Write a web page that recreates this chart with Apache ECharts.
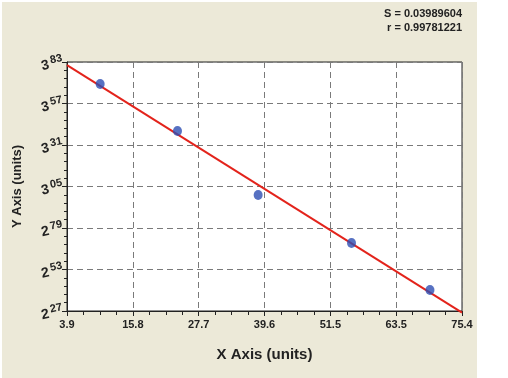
<!DOCTYPE html>
<html>
<head>
<meta charset="utf-8">
<script src="https://cdn.jsdelivr.net/npm/echarts@6/dist/echarts.min.js"></script>
<style>
  html, body { margin: 0; padding: 0; background: #fff; }
  #chart { width: 508px; height: 378px; }
</style>
</head>
<body>
<div id="chart"></div>
<script>
// standard points
var pointX = [9.9, 23.9, 38.5, 55.4, 69.6];
var pointY = [3.692, 3.398, 2.997, 2.696, 2.402];
// fitted line ends
var lineX = [3.9, 75.4];
var lineY = [3.81, 2.26];
// tick labels
var xTicks = ["3.9", "15.8", "27.7", "39.6", "51.5", "63.5", "75.4"];
var yTicks = ["2.27", "2.53", "2.79", "3.05", "3.31", "3.57", "3.83"];
var statS = "S = 0.03989604";
var statR = "r = 0.99781221";

var xMin = 3.9, xMax = 75.4, xStep = (xMax - xMin) / 6;
var yMin = 2.27, yMax = 3.83, yStep = 0.26;

var chart = echarts.init(document.getElementById("chart"));
chart.setOption({
  animation: false,
  textStyle: { fontFamily: "Liberation Sans" },
  graphic: [
    {
      type: "rect",
      z: -10,
      shape: { x: 2, y: 2, width: 475, height: 376 },
      style: { fill: "#ECE9D8" }
    },
    {
      type: "text",
      right: 46,
      top: 8,
      style: { text: statS, font: "bold 11px 'Liberation Sans'", fill: "#222", textAlign: "right" }
    },
    {
      type: "text",
      right: 46,
      top: 22,
      style: { text: statR, font: "bold 11px 'Liberation Sans'", fill: "#222", textAlign: "right" }
    }
  ],
  grid: {
    left: 67,
    right: 46,
    top: 62,
    bottom: 67,
    outerBoundsMode: "none",
    show: true,
    backgroundColor: "#fff",
    borderColor: "#222",
    borderWidth: 1
  },
  xAxis: {
    type: "value",
    min: xMin,
    max: xMax,
    interval: xStep,
    name: "X Axis (units)",
    nameLocation: "middle",
    nameGap: 36,
    nameTextStyle: { fontSize: 15, fontWeight: "bold", color: "#222" },
    axisLine: { lineStyle: { color: "#222" } },
    axisTick: { length: 5, lineStyle: { color: "#222" } },
    minorTick: { show: true, splitNumber: 4, length: 4, lineStyle: { color: "#222" } },
    axisLabel: {
      margin: 8,
      fontSize: 11,
      fontWeight: "bold",
      color: "#222",
      formatter: function (v) {
        return xTicks[Math.round((v - xMin) / xStep)];
      }
    },
    splitLine: { lineStyle: { color: "#7a7a7a", type: [6, 4] } }
  },
  yAxis: {
    type: "value",
    min: yMin,
    max: yMax,
    interval: yStep,
    name: "Y Axis (units)",
    nameLocation: "middle",
    nameGap: 43,
    nameTextStyle: { fontSize: 13, fontWeight: "bold", color: "#222" },
    axisLine: { show: true, lineStyle: { color: "#222" } },
    axisTick: { show: true, length: 5, lineStyle: { color: "#222" } },
    minorTick: { show: true, splitNumber: 5, length: 3, lineStyle: { color: "#222" } },
    axisLabel: {
      margin: 4,
      rotate: 12,
      color: "#222",
      formatter: function (v) {
        var s = yTicks[Math.round((v - yMin) / yStep)];
        if (!s) return "";
        var p = s.split(".");
        return "{b|" + p[0] + "}{s|" + p[1] + "}";
      },
      rich: {
        b: { fontSize: 14, fontWeight: "bold", color: "#222" },
        s: { fontSize: 11, fontWeight: "bold", color: "#222", padding: [0, 0, 8, 2] }
      }
    },
    splitLine: { lineStyle: { color: "#7a7a7a", type: [6, 4] } }
  },
  series: [
    {
      // regression line
      type: "line",
      data: [[lineX[0], lineY[0]], [lineX[1], lineY[1]]],
      showSymbol: false,
      clip: false,
      lineStyle: { color: "#E3231B", width: 2 },
      z: 2
    },
    {
      type: "scatter",
      data: pointX.map(function (x, i) { return [x, pointY[i]]; }),
      symbolSize: [9, 10],
      itemStyle: { color: "#2D4DB3" },
      z: 3
    }
  ]
});
</script>
</body>
</html>
